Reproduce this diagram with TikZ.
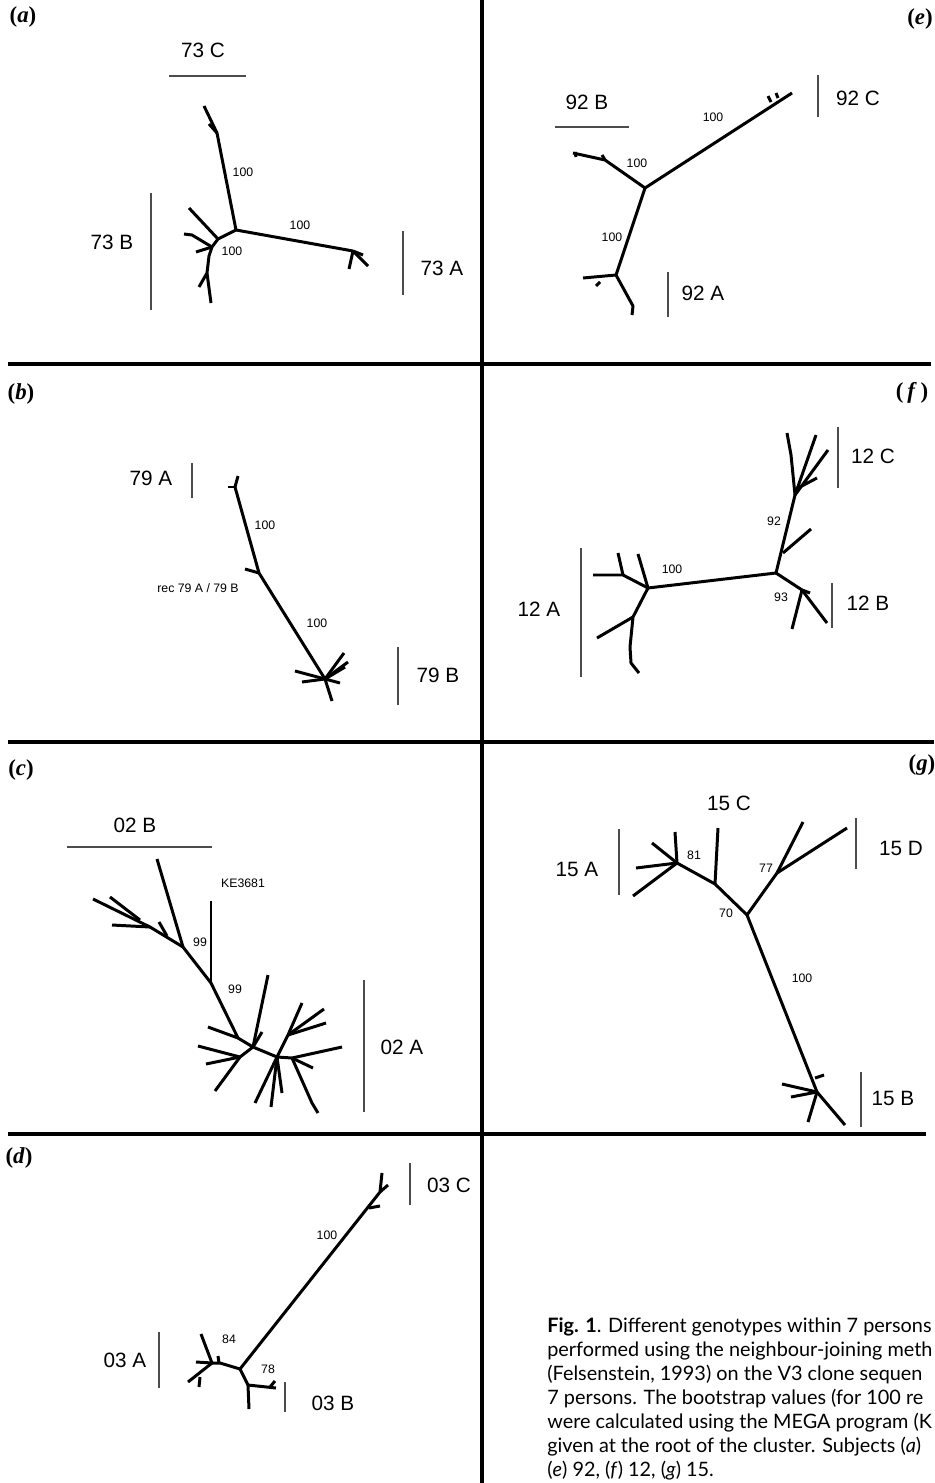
\documentclass[tikz,border=0pt]{standalone}
\usepackage{fontspec}
\setmainfont{Liberation Serif}
\setsansfont{Liberation Sans}
\newfontfamily\capfont{Lato}

\tikzset{
  branch/.style={line width=1.7pt, line join=round},
  bar/.style={line width=0.6pt, black!70},
  rule/.style={line width=2pt},
  grp/.style={font=\sffamily\fontsize{11.8}{13}\selectfont, inner sep=0pt},
  boot/.style={font=\sffamily\fontsize{7}{8}\selectfont, inner sep=0pt},
  panel/.style={font=\bfseries\fontsize{13}{15}\selectfont, inner sep=0pt},
}

\begin{document}
\begin{tikzpicture}[x=0.02cm, y=-0.02cm]
\useasboundingbox (0,0) rectangle (934,1483);

% frame
\draw[rule] (482,0) -- (482,1483);
\draw[rule] (8,364) -- (931,364);
\draw[rule] (8,742) -- (934,742);
\draw[rule] (8,1134) -- (926,1134);

\node[panel] (la) at (23,17) {(\textit{a})};
\node[panel] (le) at (920,19) {(\textit{e})};
\node[panel] (lb) at (21,394) {(\textit{b})};
\node[panel] (lf) at (912,393) {(\,\textit{f}\,)};
\node[panel] (lc) at (21,770) {(\textit{c})};
\node[panel] (lg) at (922,765) {(\textit{g})};
\node[panel] (ld) at (19,1158) {(\textit{d})};

% (a) subject 73
\coordinate (a0) at (236,230);
\coordinate (aC) at (217,133);
\coordinate (aA) at (353,251);
\coordinate (aB1) at (218,239);
\coordinate (aB2) at (212,247);
\coordinate (aB3) at (207,273);
\draw[branch] (204,106) -- (aC) -- (a0) -- (aA);
\draw[branch] (aC) -- (209,124);
\draw[branch] (a0) -- (aB1) -- (aB2) -- (209,256) -- (aB3) -- (211,303);
\draw[branch] (aB1) -- (189,208);
\draw[branch] (aB2) -- (192,235) -- (184,234);
\draw[branch] (aB2) -- (196,252);
\draw[branch] (aB3) -- (199,287);
\draw[branch] (aA) -- (368,266);
\draw[branch] (aA) -- (349,269);
\draw[branch] (aA) -- (363,255);
\node[grp] (a73C) at (203,50) {73 C};
\node[grp] (a73B) at (112,242) {73 B};
\node[grp] (a73A) at (442,268) {73 A};
\draw[bar] (169,76) -- (246,76);
\draw[bar] (151,193) -- (151,310);
\draw[bar] (403,231) -- (403,295);
\node[boot] (ab1) at (243,172) {100};
\node[boot] (ab2) at (300,225) {100};
\node[boot] (ab3) at (232,251) {100};

% (e) subject 92
\coordinate (e0) at (645,188);
\coordinate (eC) at (792,93);
\coordinate (eB) at (605,160);
\coordinate (eA) at (616,275);
\draw[branch] (e0) -- (eC);
\draw[branch] (771,102) -- (768,96);
\draw[branch] (778,98) -- (776,93);
\draw[branch] (e0) -- (eB) -- (573,153);
\draw[branch] (eB) -- (602,155);
\draw[branch] (575,152) -- (576,157);
\draw[branch] (e0) -- (eA);
\draw[branch] (eA) -- (583,278);
\draw[branch] (600,282) -- (596,286);
\draw[branch] (eA) -- (633,306) -- (632,315);
\node[grp] (e92B) at (587,102) {92 B};
\node[grp] (e92C) at (858,98) {92 C};
\node[grp] (e92A) at (703,293) {92 A};
\draw[bar] (555,127) -- (629,127);
\draw[bar] (818,75) -- (818,117);
\draw[bar] (668,272) -- (668,317);
\node[boot] (eb1) at (713,117) {100};
\node[boot] (eb2) at (637,163) {100};
\node[boot] (eb3) at (612,237) {100};

% (b) subject 79
\coordinate (b1) at (235,487);
\coordinate (b2) at (259,573);
\coordinate (b3) at (325,679);
\draw[branch] (b1) -- (238,476);
\draw[branch] (b1) -- (228,487);
\draw[branch] (b1) -- (b2) -- (b3);
\draw[branch] (b2) -- (245,569);
\draw[branch] (b3) -- (344,653);
\draw[branch] (b3) -- (348,662);
\draw[branch] (b3) -- (345,667);
\draw[branch] (b3) -- (295,671);
\draw[branch] (b3) -- (302,682);
\draw[branch] (b3) -- (340,683);
\draw[branch] (b3) -- (332,701);
\node[grp] (b79A) at (151,478) {79 A};
\node[grp] (b79B) at (438,675) {79 B};
\draw[bar] (192,463) -- (192,498);
\draw[bar] (398,647) -- (398,705);
\node[boot] (bb1) at (265,525) {100};
\node[boot] (bb2) at (317,623) {100};
\node[boot] (brec) at (198,588) {rec 79 A / 79 B};

% (f) subject 12
\coordinate (fL) at (648,588);
\coordinate (fR) at (776,573);
\coordinate (fC) at (795,495);
\coordinate (fB) at (802,590);
\coordinate (fA1) at (623,575);
\coordinate (fA2) at (633,617);
\draw[branch] (fL) -- (fR);
\draw[branch] (fR) -- (fC);
\draw[branch] (783,553) -- (811,529);
\draw[branch] (fC) -- (791,455) -- (787,433);
\draw[branch] (fC) -- (816,435);
\draw[branch] (fC) -- (828,450);
\draw[branch] (798,488) -- (817,478);
\draw[branch] (fR) -- (fB);
\draw[branch] (fB) -- (827,623);
\draw[branch] (fB) -- (792,629);
\draw[branch] (fB) -- (810,593);
\draw[branch] (fL) -- (fA1) -- (593,575);
\draw[branch] (fA1) -- (618,553);
\draw[branch] (fL) -- (638,554);
\draw[branch] (fL) -- (fA2) -- (630,647) -- (631,663) -- (639,673);
\draw[branch] (fA2) -- (597,638);
\node[grp] (f12C) at (873,456) {12 C};
\node[grp] (f12B) at (868,603) {12 B};
\node[grp] (f12A) at (539,609) {12 A};
\draw[bar] (838,427) -- (838,488);
\draw[bar] (832,583) -- (832,628);
\draw[bar] (581,548) -- (581,677);
\node[boot] (fb1) at (672,569) {100};
\node[boot] (fb2) at (774,521) {92};
\node[boot] (fb3) at (781,597) {93};

% (c) subject 02
\coordinate (c1) at (183,947);
\coordinate (c2) at (211,983);
\coordinate (c3) at (238,1038);
\coordinate (c4) at (253,1047);
\coordinate (c5) at (277,1057);
\coordinate (c6) at (240,1057);
\coordinate (c7) at (292,1058);
\coordinate (c8) at (288,1035);
\coordinate (cB) at (150,927);
\draw[branch] (c1) -- (157,859);
\draw[branch] (c1) -- (c2) -- (c3) -- (c4) -- (c5) -- (c7) -- (342,1047);
\draw[branch] (c2) -- (211,901);
\draw[branch] (c1) -- (cB) -- (93,899);
\draw[branch] (cB) -- (112,925);
\draw[branch] (140,920) -- (110,897);
\draw[branch] (167,936) -- (159,922);
\draw[branch] (c3) -- (208,1027);
\draw[branch] (c4) -- (268,975);
\draw[branch] (c4) -- (262,1032);
\draw[branch] (c4) -- (c6) -- (215,1091);
\draw[branch] (c6) -- (198,1046);
\draw[branch] (c6) -- (206,1064);
\draw[branch] (c5) -- (c8) -- (302,1003);
\draw[branch] (c8) -- (324,1009);
\draw[branch] (c8) -- (326,1023);
\draw[branch] (c7) -- (313,1068);
\draw[branch] (c7) -- (312,1103) -- (318,1113);
\draw[branch] (c5) -- (255,1103);
\draw[branch] (c5) -- (271,1107);
\draw[branch] (c5) -- (282,1093);
\node[grp] (c02B) at (135,825) {02 B};
\node[grp] (c02A) at (402,1047) {02 A};
\draw[bar] (67,847) -- (212,847);
\draw[bar] (364,980) -- (364,1112);
\node[boot] (cke) at (243,883) {KE3681};
\node[boot] (cb1) at (200,942) {99};
\node[boot] (cb2) at (235,989) {99};

% (g) subject 15
\coordinate (g81) at (677,863);
\coordinate (gC) at (715,884);
\coordinate (g70) at (747,915);
\coordinate (g77) at (777,873);
\coordinate (gB) at (817,1092);
\draw[branch] (g81) -- (gC) -- (g70) -- (gB);
\draw[branch] (g70) -- (g77);
\draw[branch] (gC) -- (718,828);
\draw[branch] (g77) -- (803,822);
\draw[branch] (g77) -- (847,828);
\draw[branch] (g81) -- (675,832);
\draw[branch] (g81) -- (636,868);
\draw[branch] (g81) -- (633,896);
\draw[branch] (g81) -- (652,843);
\draw[branch] (gB) -- (782,1084);
\draw[branch] (gB) -- (791,1097);
\draw[branch] (gB) -- (808,1122);
\draw[branch] (gB) -- (845,1125);
\draw[branch] (815,1078) -- (824,1075);
\node[grp] (g15C) at (729,803) {15 C};
\node[grp] (g15D) at (901,848) {15 D};
\node[grp] (g15A) at (577,869) {15 A};
\node[grp] (g15B) at (893,1098) {15 B};
\draw[bar] (856,818) -- (856,869);
\draw[bar] (619,829) -- (619,895);
\draw[bar] (861,1072) -- (861,1127);
\node[boot] (gb1) at (694,855) {81};
\node[boot] (gb2) at (726,913) {70};
\node[boot] (gb3) at (766,868) {77};
\node[boot] (gb4) at (802,978) {100};

% (d) subject 03
\coordinate (d0) at (240,1369);
\coordinate (dC) at (380,1192);
\coordinate (dA) at (212,1363);
\coordinate (dB) at (248,1385);
\draw[branch] (d0) -- (dC) -- (382,1173);
\draw[branch] (dC) -- (388,1185);
\draw[branch] (369,1208) -- (380,1206);
\draw[branch] (d0) -- (220,1363) -- (dA);
\draw[branch] (219,1363) -- (218,1356);
\draw[branch] (dA) -- (201,1334);
\draw[branch] (dA) -- (196,1362);
\draw[branch] (dA) -- (188,1382);
\draw[branch] (200,1377) -- (199,1387);
\draw[branch] (d0) -- (dB) -- (276,1388);
\draw[branch] (dB) -- (249,1409);
\draw[branch] (270,1387) -- (275,1381);
\node[grp] (d03C) at (449,1185) {03 C};
\node[grp] (d03A) at (125,1360) {03 A};
\node[grp] (d03B) at (333,1403) {03 B};
\draw[bar] (410,1163) -- (410,1205);
\draw[bar] (159,1332) -- (159,1388);
\draw[bar] (285,1382) -- (285,1412);
\node[boot] (db1) at (327,1235) {100};
\node[boot] (db2) at (229,1339) {84};
\node[boot] (db3) at (268,1369) {78};

% caption
\foreach \ln [count=\i from 0] in {
  {\textbf{Fig. 1}. Different genotypes within 7 persons},
  {performed using the neighbour-joining meth},
  {(Felsenstein, 1993) on the V3 clone sequen},
  {7 persons. The bootstrap values (for 100 re},
  {were calculated using the MEGA program (K},
  {given at the root of the cluster. Subjects (\textit{a})},
  {(\textit{e}) 92, (\textit{f}) 12, (\textit{g}) 15.}}
  \node[font=\capfont\fontsize{11.3}{12}\selectfont, inner sep=0pt, anchor=base west]
    (cap\i) at (547,1332+24*\i) {\ln};
\end{tikzpicture}
\end{document}
